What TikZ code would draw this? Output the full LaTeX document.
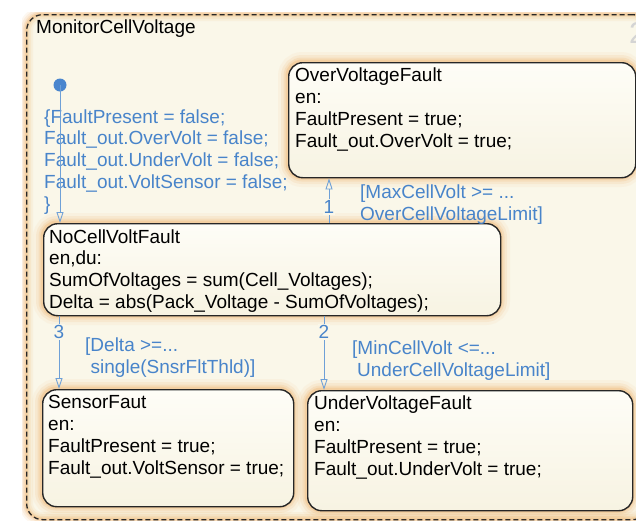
\documentclass[tikz,border=0pt]{standalone}
\usepackage{fontspec}
\setmainfont{Liberation Sans}
\usetikzlibrary{arrows.meta,calc}

\definecolor{trblue}{RGB}{72,132,202}
\definecolor{trline}{RGB}{110,160,215}
\definecolor{dotblue}{RGB}{74,134,206}
\definecolor{glow}{RGB}{236,160,70}
\definecolor{chartbg}{RGB}{250,247,233}
\definecolor{statetop}{RGB}{254,253,247}
\definecolor{statebot}{RGB}{247,243,226}
\definecolor{ordergray}{RGB}{212,212,212}

\tikzset{
  stbox/.style={rectangle, rounded corners=14pt, draw=black!85, line width=1.4pt,
    top color=statetop, bottom color=statebot, inner sep=0pt, anchor=north west},
  chartbox/.style={rectangle, rounded corners=16pt, draw=black!85, line width=1.3pt,
    dash pattern=on 5pt off 3pt, inner sep=0pt, anchor=north west},
  % multi-line texts are placed by the baseline of their last line
  sttext/.style={anchor=base west, align=left, inner sep=0pt,
    font=\fontsize{19}{21.8}\selectfont, text=black},
  trlabel/.style={anchor=base west, align=left, inner sep=0pt,
    font=\fontsize{19}{21.7}\selectfont, text=trblue},
  trans/.style={draw=trline, line width=0.9pt,
    -{Triangle[open, length=11pt, width=7pt, line width=0.9pt]}},
  ordnum/.style={font=\fontsize{19}{20}\selectfont, text=trblue, fill=chartbg,
    inner sep=1pt},
  glowline/.style={draw=glow, rounded corners=14pt},
}

% a state: soft orange halo, then the rounded box on top of it
\newcommand\chartstate[5]{%
  \foreach \w/\o in {20/0.06,14/0.1,9/0.14,5/0.22}{%
    \draw[glowline, line width=\w pt, opacity=\o] (#2,#3) rectangle (#4,#5);}
  \node[stbox, minimum width={#4pt-#2pt}, minimum height={#5pt-#3pt}] (#1) at (#2,#3) {};
}

\begin{document}
\begin{tikzpicture}[x=1pt,y=-1pt]
\useasboundingbox (0,0) rectangle (636,520);
\fill[white] (0,0) rectangle (636,520);

% parent state MonitorCellVoltage
\begin{scope}
  \clip (22,12) rectangle (636,520);
  \fill[chartbg, rounded corners=16pt] (26,14) rectangle (648,519);
  \foreach \w/\o in {14/0.08,10/0.11,6/0.15,3/0.22}{%
    \draw[glowline, rounded corners=16pt, line width=\w pt, opacity=\o] (26,14) rectangle (648,519);}
  \node[chartbox, minimum width=622pt, minimum height=505pt] (monitor) at (26,14) {};
  \node[anchor=base west, inner sep=0pt, font=\fontsize{30}{30}\selectfont,
    text=ordergray] (order) at (629,43) {2};
\end{scope}
\node[sttext] (monitortxt) at (36,33) {MonitorCellVoltage};

% substates
\chartstate{over}{288}{62}{635}{177}
\chartstate{nocell}{43}{223}{500}{315}
\chartstate{sensor}{42}{389}{293}{506}
\chartstate{under}{307}{390}{632}{510}

\node[sttext] (overtxt) at (295,147)
  {OverVoltageFault\\en:\\FaultPresent = true;\\Fault\_out.OverVolt = true;};
\node[sttext] (nocelltxt) at (49,308.5)
  {NoCellVoltFault\\en,du:\\SumOfVoltages = sum(Cell\_Voltages);\\Delta = abs(Pack\_Voltage - SumOfVoltages);};
\node[sttext] (sensortxt) at (48,474)
  {SensorFaut\\en:\\FaultPresent = true;\\Fault\_out.VoltSensor = true;};
\node[sttext] (undertxt) at (314,475)
  {UnderVoltageFault\\en:\\FaultPresent = true;\\Fault\_out.UnderVolt = true;};

% default transition
\node[trlabel] (initlbl) at (44,210)
  {\{FaultPresent = false;\\Fault\_out.OverVolt = false;\\Fault\_out.UnderVolt = false;\\Fault\_out.VoltSensor = false;\\\}};
\node[circle, fill=dotblue, minimum size=13pt, inner sep=0pt] (init) at (60,85) {};
\draw[trans] (init.center) -- (init.center |- nocell.north);

% fault transitions
\coordinate (c1) at (329,0);
\coordinate (c2) at (324,0);
\coordinate (c3) at (59,0);
\draw[trans] (nocell.north -| c1) -- (over.south -| c1);
\draw[trans] (nocell.south -| c2) -- (under.north -| c2);
\draw[trans] (nocell.south -| c3) -- (sensor.north -| c3);

\node[ordnum] (n1) at (329,207) {1};
\node[ordnum] (n2) at (324,332) {2};
\node[ordnum] (n3) at (59,332) {3};

\node[trlabel] (lbl1) at (360,220) {[MaxCellVolt >= ...\\OverCellVoltageLimit]};
\node[trlabel] (lbl2) at (352,376) {[MinCellVolt <=...\\\hspace*{5pt}UnderCellVoltageLimit]};
\node[trlabel] (lbl3) at (85,373) {[Delta >=...\\\hspace*{5.5pt}single(SnsrFltThld)]};
\end{tikzpicture}
\end{document}
